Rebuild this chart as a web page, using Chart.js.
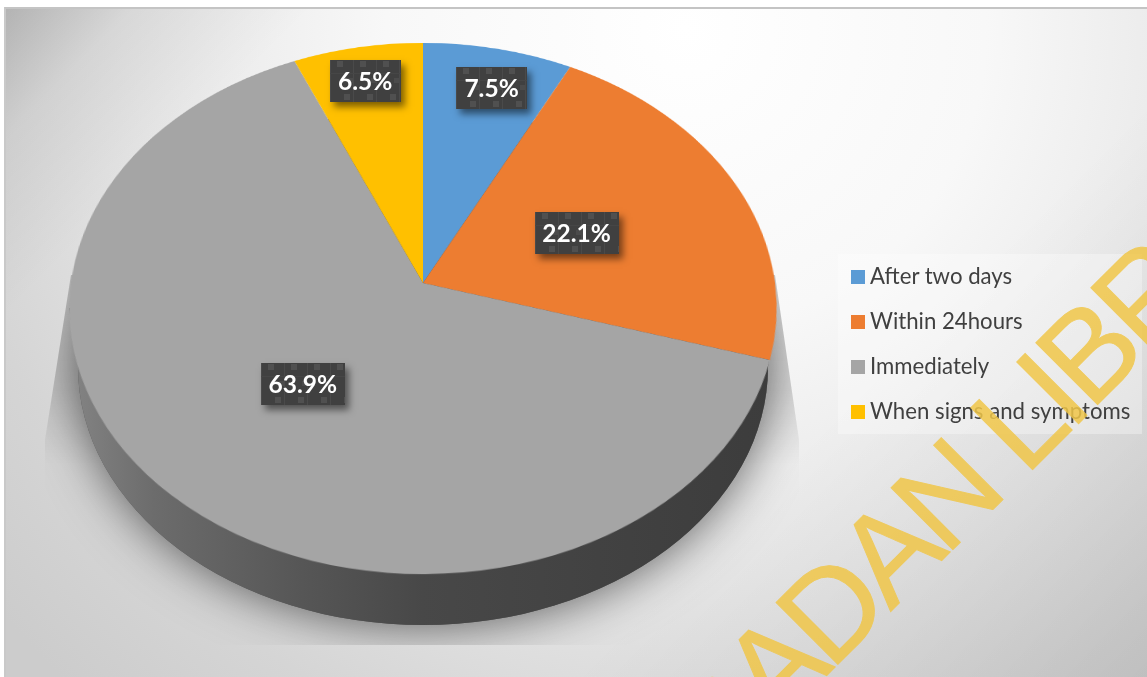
<!DOCTYPE html>
<html>
<head>
<meta charset="utf-8">
<title>Pie chart</title>
<script src="https://cdn.jsdelivr.net/npm/chart.js@4"></script>
<style>
    html, body { margin: 0; padding: 0; background: #fff; overflow: hidden; }
    #stage { position: relative; width: 1147px; height: 677px; overflow: hidden; }
    #frame {
        position: absolute; left: 4px; top: 7px; right: 0; bottom: 0;
        border-left: 2px solid #c9c9c9; border-top: 2px solid #c4c4c4;
        background:
            linear-gradient(135deg, rgba(0,0,0,0.18) 0, rgba(0,0,0,0.06) 7%, rgba(0,0,0,0) 17%),
            linear-gradient(315deg, rgba(0,0,0,0.09) 0, rgba(0,0,0,0) 32%),
            radial-gradient(circle at 680px 20px, #ffffff 0, #f8f8f8 300px, #e6e6e6 550px, #d5d5d5 750px, #cccccc 900px);
    }
    #floor { position: absolute; left: 0; top: 0; }
    #pie {
        position: absolute; left: 63px; top: -77px;
        width: 720px; height: 720px;
        transform-origin: 50% 50%;
    }
    .value {
        position: absolute; height: 42px; text-align: center;
        font: bold 24.5px/42px Lato, sans-serif; color: #fff;
        background-color: #404040;
        box-shadow: 4px 5px 7px rgba(0,0,0,0.5);
    }
    #legend {
        position: absolute; left: 838px; top: 254px; width: 304px; height: 180px;
        background: rgba(255,255,255,0.32);
        font: 22.2px Lato, sans-serif; color: #404040;
    }
    .entry { position: absolute; left: 13px; height: 30px; line-height: 30px; white-space: nowrap; }
    .entry i { position: absolute; left: 0; top: 8px; width: 14px; height: 14px; }
    .entry span { position: absolute; left: 19px; top: -1px; }
    #stamp {
        position: absolute; left: 0; top: 0; white-space: nowrap;
        font: 127px/1 "Liberation Sans", sans-serif; letter-spacing: -7px;
        color: #f0c648; opacity: 0.85;
        -webkit-text-stroke: 1px #f0c648;
        transform-origin: 0 0;
    }
</style>
</head>
<body>
<div id="stage">
    <div id="frame"></div>
    <canvas id="floor" width="1147" height="677"></canvas>
    <canvas id="pie" width="720" height="720"></canvas>
    <div id="legend"></div>
    <div id="stamp">IBADAN LIBRARY</div>
</div>
<script>
// Pie values
const categories = ['After two days', 'Within 24hours', 'Immediately', 'When signs and symptoms'];
const shares = [7.5, 22.1, 63.9, 6.5];
const sliceColors = ['#5b9bd5', '#ed7d31', '#a5a5a5', '#ffc000'];
const labelRadius = [0.82, 0.49, 0.496, 0.845];
const labelShiftX = [6, -2, 0, -2];

// Tilt of the pie disc and where its centre sits on the page
const centerX = 423;
const centerY = 283;
const tiltDeg = 41.6;
const viewDist = 2435;
const tiltCos = Math.cos(tiltDeg * Math.PI / 180);
const tiltSin = Math.sin(tiltDeg * Math.PI / 180);

document.getElementById('pie').style.transform =
    `perspective(${viewDist}px) rotateX(${tiltDeg}deg)`;

// Same projection as the CSS transform, for placing things on the flat page
function projectPoint(x, y) {
    const w = 1 + y * tiltSin / viewDist;
    return { x: centerX + x / w, y: centerY - y * tiltCos / w };
}

// Floor shadow and the side wall under the disc
function drawFloor() {
    const ctx = document.getElementById('floor').getContext('2d');

    ctx.save();
    ctx.beginPath();
    ctx.moveTo(71, 275);
    ctx.lineTo(775, 275);
    ctx.lineTo(799, 440);
    ctx.lineTo(799, 645);
    ctx.lineTo(45, 645);
    ctx.lineTo(45, 440);
    ctx.closePath();
    ctx.clip();

    // faint wedge on both sides, gone by the height of the pie bottom
    const wedge = ctx.createLinearGradient(0, 275, 0, 465);
    wedge.addColorStop(0, 'rgba(0,0,0,0.13)');
    wedge.addColorStop(0.6, 'rgba(0,0,0,0.09)');
    wedge.addColorStop(1, 'rgba(0,0,0,0)');
    ctx.fillStyle = wedge;
    ctx.fillRect(40, 275, 770, 190);

    ctx.shadowColor = 'rgba(0,0,0,0.62)';
    ctx.shadowBlur = 50;
    ctx.fillStyle = '#555';
    ctx.beginPath();
    ctx.ellipse(423, 367, 345, 258, 0, 0, Math.PI * 2);
    ctx.fill();
    ctx.restore();

    const wall = ctx.createLinearGradient(69, 0, 776, 0);
    wall.addColorStop(0, '#848484');
    wall.addColorStop(0.12, '#6c6c6c');
    wall.addColorStop(0.33, '#565656');
    wall.addColorStop(0.5, '#484848');
    wall.addColorStop(1, '#3c3c3c');
    ctx.fillStyle = wall;
    ctx.beginPath();
    ctx.ellipse(423, 367, 345, 258, 0, 0, Math.PI * 2);
    ctx.fill();
    ctx.beginPath();
    ctx.moveTo(69, 308);
    ctx.lineTo(776, 308);
    ctx.lineTo(768, 367);
    ctx.lineTo(78, 367);
    ctx.closePath();
    ctx.fill();
}

// Dotted tile used behind the value labels
const labelTile = 'data:image/svg+xml,' + encodeURIComponent(
    '<svg xmlns="http://www.w3.org/2000/svg" width="23" height="42">' +
    '<rect x="0" y="0" width="1" height="42" fill="#4a4a4a"/>' +
    '<rect x="0" y="13" width="23" height="1" fill="#464646"/>' +
    '<rect x="7" y="1" width="6" height="6" fill="#505050"/>' +
    '<rect x="18" y="18" width="5" height="5" fill="#4b4b4b"/>' +
    '<rect x="14" y="34" width="6" height="6" fill="#505050"/>' +
    '</svg>');

// Value labels follow the middle of each slice
function placeLabels(chart) {
    const arcs = chart.getDatasetMeta(0).data;
    const stage = document.getElementById('stage');
    arcs.forEach((arc, i) => {
        const mid = (arc.startAngle + arc.endAngle) / 2;
        const r = arc.outerRadius * labelRadius[i];
        const p = projectPoint(r * Math.cos(mid), -r * Math.sin(mid));
        const text = shares[i].toFixed(1) + '%';
        const boxWidth = shares[i] >= 10 ? 84 : 71;
        const box = document.createElement('div');
        box.className = 'value';
        box.textContent = text;
        box.style.left = (p.x + labelShiftX[i] - boxWidth / 2) + 'px';
        box.style.top = (p.y - 21) + 'px';
        box.style.width = boxWidth + 'px';
        box.style.backgroundImage = `url("${labelTile}")`;
        stage.insertBefore(box, document.getElementById('legend'));
    });
}

// Legend rows
function buildLegend() {
    const legend = document.getElementById('legend');
    categories.forEach((name, i) => {
        const row = document.createElement('div');
        row.className = 'entry';
        row.style.top = (8 + i * 45) + 'px';
        row.innerHTML = `<i style="background:${sliceColors[i]}"></i><span>${name}</span>`;
        legend.appendChild(row);
    });
}

// Watermark running up the lower right corner
const stamp = document.getElementById('stamp');
stamp.style.transform = 'translate(625px, 726px) rotate(-45deg)';

drawFloor();
buildLegend();

const pieChart = new Chart(document.getElementById('pie').getContext('2d'), {
    type: 'pie',
    data: {
        labels: categories,
        datasets: [{
            data: shares,
            backgroundColor: sliceColors,
            borderWidth: 0
        }]
    },
    options: {
        responsive: false,
        animation: false,
        layout: { padding: 8 },
        plugins: {
            legend: { display: false },
            tooltip: { enabled: false }
        }
    }
});

placeLabels(pieChart);
</script>
</body>
</html>
